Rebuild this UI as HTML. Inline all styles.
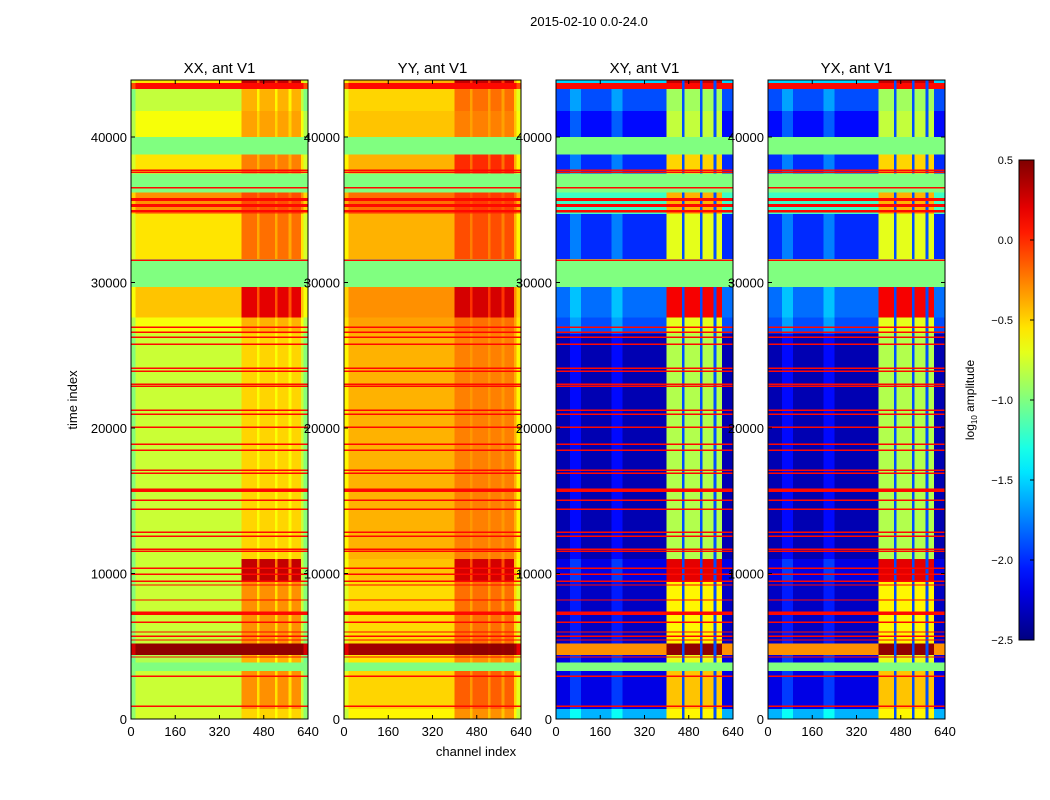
<!DOCTYPE html>
<html><head><meta charset="utf-8">
<style>
html,body{margin:0;padding:0;background:#fff;}
svg{display:block;font-family:"Liberation Sans","DejaVu Sans",sans-serif;}
</style></head>
<body>
<svg id="fig" width="1050" height="800" viewBox="0 0 1050 800" xmlns="http://www.w3.org/2000/svg">
<rect width="1050" height="800" fill="#fff"/>
<text x="589" y="26" font-size="13" text-anchor="middle">2015-02-10 0.0-24.0</text>
<text x="0" y="0" font-size="13" text-anchor="middle" transform="translate(77,400) rotate(-90)">time index</text>
<text x="476" y="756" font-size="13" text-anchor="middle">channel index</text>
<g id="panels"></g>
<g id="cbar"></g>
</svg>
<script>
// ---- data (log10 amplitude) ----
const bandStart = [0, 700, 3300, 3900, 4400, 5200, 9500, 11000, 26500, 27600, 29700, 31600, 34700, 36200, 37500, 38800, 40000, 41800, 43300, 43700];
const bandEnd   = [700, 3300, 3900, 4400, 5200, 9500, 11000, 26500, 27600, 29700, 31600, 34700, 36200, 37500, 38800, 40000, 41800, 43300, 43700, 43918];
const xxBase = [-0.75, -0.78, -1.0, -0.85, 0.45, -0.78, -0.78, -0.78, -0.65, -0.45, -1.0, -0.55, -0.3, -1.0, -0.55, -1.0, -0.65, -0.8, 0.1, -0.55];
const xxRfi  = [-0.5, -0.3, -1.0, -0.4, 0.45, -0.3, 0.3, -0.5, -0.4, 0.2, -1.0, -0.2, -0.1, -1.0, -0.25, -1.0, -0.35, -0.4, 0.1, 0.3];
const yyBase = [-0.6, -0.5, -1.0, -0.55, 0.4, -0.52, -0.45, -0.4, -0.35, -0.3, -1.0, -0.4, -0.2, -1.0, -0.4, -1.0, -0.45, -0.5, 0.1, -0.4];
const yyRfi  = [-0.3, -0.15, -1.0, -0.3, 0.45, -0.2, 0.25, -0.25, -0.2, 0.25, -1.0, -0.1, -0.05, -1.0, 0.0, -1.0, -0.25, -0.2, 0.1, 0.3];
const xyBase = [-1.6, -2.2, -1.0, -2.2, -0.3, -2.3, -2.2, -2.35, -1.9, -1.8, -1.0, -2.0, -1.2, -1.0, -2.0, -1.0, -2.1, -1.9, 0.1, -1.5];
const xyRfi  = [-0.6, -0.45, -1.0, -0.7, 0.45, -0.6, 0.2, -0.85, -0.7, 0.15, -1.0, -0.7, -0.4, -1.0, -0.5, -1.0, -0.8, -0.9, 0.1, 0.3];
const yxBase = [-1.6, -2.2, -1.0, -2.2, -0.3, -2.3, -2.2, -2.35, -1.9, -1.8, -1.0, -2.0, -1.2, -1.0, -2.0, -1.0, -2.1, -1.9, 0.1, -1.5];
const yxRfi  = [-0.6, -0.45, -1.0, -0.7, 0.45, -0.6, 0.2, -0.85, -0.7, 0.15, -1.0, -0.7, -0.4, -1.0, -0.5, -1.0, -0.8, -0.9, 0.1, 0.3];
// flagged / hot rows crossing all channels
const lineTimes = [890, 2950, 4260, 5430, 5700, 5980, 6660, 7280, 8180, 9210, 9480, 9960, 10370, 11540, 11680, 12570, 12850, 14430, 15050, 15730, 16900, 17110, 18480, 18890, 20060, 20950, 21230, 22880, 23010, 23910, 24110, 25760, 26240, 26590, 26930, 31530, 34900, 35300, 35700, 36500, 37580, 37700];
const lineVals  = [0.1, 0.1, 0.1, 0.1, 0.1, 0.1, 0.1, 0.1, 0.1, 0.1, 0.1, 0.1, 0.1, 0.1, 0.1, 0.1, 0.1, 0.1, 0.1, 0.1, 0.1, 0.1, 0.1, 0.1, 0.1, 0.1, 0.1, 0.1, 0.1, 0.1, 0.1, 0.1, 0.1, 0.1, 0.1, 0.1, 0.1, 0.1, 0.1, 0.1, 0.1, 0.1];
const lineWidth = [100, 100, 100, 100, 100, 100, 100, 250, 100, 100, 100, 100, 100, 100, 100, 100, 100, 100, 100, 250, 100, 100, 100, 100, 100, 100, 100, 100, 100, 100, 100, 100, 100, 100, 100, 100, 200, 200, 200, 100, 100, 100];
// channel structure
const rfiColStart = [400, 465, 530, 580];
const rfiColEnd   = [455, 520, 570, 615];
const stripeCenters = [70, 220];
const panelNames = ["XX", "YY", "XY", "YX"];
const xTicks = [0, 160, 320, 480, 640];
const yTicks = [0, 10000, 20000, 30000, 40000];
const cbTicks = [0.5, 0.0, -0.5, -1.0, -1.5, -2.0, -2.5];
const cbLabels = ["0.5", "0.0", "\u22120.5", "\u22121.0", "\u22121.5", "\u22122.0", "\u22122.5"];

const panelBase = [xxBase, yyBase, xyBase, yxBase];
const panelRfi  = [xxRfi, yyRfi, xyRfi, yxRfi];
const panelLeft = [131, 344, 556, 768];
const PW = 177, TOP = 80, BOT = 719, TMAX = 43918, CMAX = 640;
const VMIN = -2.5, VMAX = 0.5;
const NS = "http://www.w3.org/2000/svg";

function jet(v){
  let x = (v - VMIN) / (VMAX - VMIN); x = Math.max(0, Math.min(1, x));
  const c = t => Math.round(255 * Math.max(0, Math.min(1, t)));
  return `rgb(${c(1.5-Math.abs(4*x-3))},${c(1.5-Math.abs(4*x-2))},${c(1.5-Math.abs(4*x-1))})`;
}
function el(tag, attrs, parent){
  const e = document.createElementNS(NS, tag);
  for (const k in attrs) e.setAttribute(k, attrs[k]);
  parent.appendChild(e); return e;
}
const yScale = t => BOT - (t / TMAX) * (BOT - TOP);
const xScaleFor = left => c => left + (c / CMAX) * PW;

const panels = document.getElementById('panels');
panelNames.forEach((nm, p) => {
  const left = panelLeft[p], xs = xScaleFor(left);
  const g = el('g', {}, panels);
  
  
  const hm = el('g', {'shape-rendering':'crispEdges'}, g);
  
  
  const base = panelBase[p], rfi = panelRfi[p], cross = p >= 2;
  for (let i = 0; i < bandStart.length; i++){
    const y0 = yScale(bandEnd[i]), y1 = yScale(bandStart[i]), h = y1 - y0;
    const flag = base[i] === -1.0 && rfi[i] === -1.0;
    let r = el('rect', {x:xs(0), y:y0, width:PW, height:h, fill:jet(base[i])}, hm);
    
    
    if (flag) continue;
    if (cross && base[i] < -1.5){
      stripeCenters.forEach(sc => {
        const s = el('rect', {x:xs(sc-20), y:y0, width:xs(sc+20)-xs(sc-20), height:h, fill:jet(base[i]+0.25)}, hm);
        
        
      });
    } else if (!cross) {
      [[0,16],[624,640]].forEach(e2 => {
        const s = el('rect', {x:xs(e2[0]), y:y0, width:xs(e2[1])-xs(e2[0]), height:h, fill:jet(base[i]-0.2)}, hm);
        
        
      });
    }
    const gapV = cross ? -1.9 : (rfi[i] + base[i]) / 2;
    const gp = el('rect', {x:xs(rfiColStart[0]), y:y0, width:xs(cross?600:rfiColEnd[3])-xs(rfiColStart[0]), height:h, fill:jet(gapV)}, hm);
    
    
    for (let k = 0; k < rfiColStart.length; k++){
      const c0 = rfiColStart[k], c1 = cross ? Math.min(rfiColEnd[k], 600) : rfiColEnd[k];
      const r2 = el('rect', {x:xs(c0), y:y0, width:xs(c1)-xs(c0), height:h, fill:jet(rfi[i])}, hm);
      
      
    }
  }
  for (let j = 0; j < lineTimes.length; j++){
    const y0 = yScale(lineTimes[j] + lineWidth[j]/2), y1 = yScale(lineTimes[j] - lineWidth[j]/2);
    const ln = el('rect', {x:xs(0), y:y0, width:PW, height:Math.max(1.2, y1-y0), fill:jet(lineVals[j])}, hm);
    
    
  }
  const fr = el('rect', {x:left, y:TOP, width:PW, height:BOT-TOP, fill:'none', stroke:'#000', 'stroke-width':1}, g);
  
  
  xTicks.forEach(c => {
    const x = xs(c);
    el('line', {x1:x, x2:x, y1:BOT, y2:BOT-4, stroke:'#000'}, g);
    el('line', {x1:x, x2:x, y1:TOP, y2:TOP+4, stroke:'#000'}, g);
    const t = el('text', {x:x, y:BOT+17, 'font-size':13, 'text-anchor':'middle'}, g);
    t.textContent = c;
    
    
  });
  yTicks.forEach(v => {
    const y = yScale(v);
    el('line', {x1:left, x2:left+4, y1:y, y2:y, stroke:'#000'}, g);
    el('line', {x1:left+PW, x2:left+PW-4, y1:y, y2:y, stroke:'#000'}, g);
    const t = el('text', {x:left-4, y:y+5, 'font-size':13, 'text-anchor':'end'}, g);
    t.textContent = v;
    
    
  });
  const tt = el('text', {x:left+PW/2, y:73, 'font-size':15, 'text-anchor':'middle'}, g);
  tt.textContent = nm + ', ant V1';
  
  
});

const cb = document.getElementById('cbar');
const CBX = 1019, CBW = 15, CBT = 160, CBB = 640;
const cbY = v => CBB - (v - VMIN) / (VMAX - VMIN) * (CBB - CBT);
const defs = el('defs', {}, cb);
const grad = el('linearGradient', {id:'jetg', x1:0, y1:1, x2:0, y2:0}, defs);
for (let i = 0; i <= 20; i++){
  el('stop', {offset: (i/20), 'stop-color': jet(VMIN + (VMAX-VMIN)*i/20)}, grad);
}
const cbr = el('rect', {x:CBX, y:CBT, width:CBW, height:CBB-CBT, fill:'url(#jetg)', stroke:'#000'}, cb);


cbTicks.forEach((v, i) => {
  const y = cbY(v);
  el('line', {x1:CBX+CBW-4, x2:CBX+CBW, y1:y, y2:y, stroke:'#000'}, cb);
  const t = el('text', {x:CBX-6, y:y+4, 'font-size':11, 'text-anchor':'end'}, cb);
  t.textContent = cbLabels[i];
  
  
});
const cl = el('text', {x:0, y:0, 'font-size':12, 'text-anchor':'middle', transform:'translate(974,400) rotate(-90)'}, cb);
cl.innerHTML = 'log<tspan font-size="8" dy="3">10</tspan><tspan dy="-3"> amplitude</tspan>';


</script>
</body></html>
